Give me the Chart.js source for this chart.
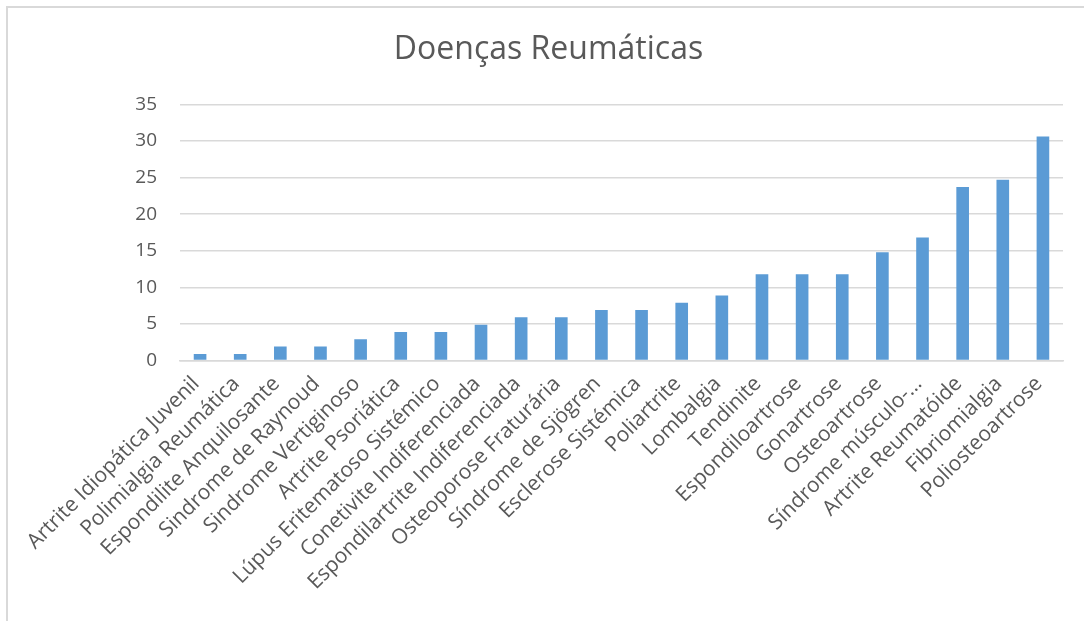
<!DOCTYPE html>
<html>
<head>
<meta charset="utf-8">
<script src="https://cdn.jsdelivr.net/npm/chart.js@4"></script>
<style>
  html, body { margin: 0; padding: 0; background: #fff; overflow: hidden; }
  #frame {
    position: absolute; left: 6px; top: 6px; width: 1200px; height: 800px;
    border-top: 2px solid #d9d9d9; border-left: 2px solid #d9d9d9;
  }
  #wrap { position: absolute; left: 0; top: 0; width: 1084px; height: 621px; }
</style>
</head>
<body>
<div id="frame"></div>
<div id="wrap"><canvas id="myChart"></canvas></div>
<script>
  // categorias e valores
  const doencas = [
    'Artrite Idiopática Juvenil',
    'Polimialgia Reumática',
    'Espondilite Anquilosante',
    'Sindrome de Raynoud',
    'Sindrome Vertiginoso',
    'Artrite Psoriática',
    'Lúpus Eritematoso Sistémico',
    'Conetivite Indiferenciada',
    'Espondilartrite Indiferenciada',
    'Osteoporose Fraturária',
    'Síndrome de Sjögren',
    'Esclerose Sistémica',
    'Poliartrite',
    'Lombalgia',
    'Tendinite',
    'Espondiloartrose',
    'Gonartrose',
    'Osteoartrose',
    'Síndrome músculo-…',
    'Artrite Reumatóide',
    'Fibriomialgia',
    'Poliosteoartrose'
  ];
  const casos = [0.9, 0.9, 1.9, 1.9, 2.9, 3.9, 3.9, 4.9, 5.9, 5.9, 6.9, 6.9, 7.9, 8.9, 11.8, 11.8, 11.8, 14.8, 16.8, 23.7, 24.7, 30.6];
  const yMax = 35;
  const yStep = 5;

  const cinza = '#595959';
  const ctx = document.getElementById('myChart');

  new Chart(ctx, {
    type: 'bar',
    data: {
      labels: doencas,
      datasets: [{
        label: 'Doenças Reumáticas',
        data: casos,
        backgroundColor: '#5b9bd5',
        borderWidth: 0,
        barPercentage: 0.63,
        categoryPercentage: 0.5
      }]
    },
    options: {
      responsive: true,
      maintainAspectRatio: false,
      animation: false,
      layout: { padding: { left: 34, right: 21, top: 0, bottom: 0 } },
      plugins: {
        legend: { display: false },
        tooltip: { enabled: false },
        title: {
          display: true,
          text: 'Doenças Reumáticas',
          color: cinza,
          font: { family: 'Open Sans', size: 32, weight: 'normal', lineHeight: 1.2 },
          padding: { top: 31, bottom: 35 }
        }
      },
      scales: {
        x: {
          grid: { display: false, drawTicks: false },
          border: { color: '#d9d9d9', width: 1.5 },
          ticks: {
            color: cinza,
            font: { family: 'Open Sans', size: 21 },
            minRotation: 45,
            maxRotation: 45,
            autoSkip: false,
            padding: 11,
            labelOffset: -4
          },
          afterFit: function (scale) { scale.height = 260.5; }
        },
        y: {
          min: 0,
          max: yMax,
          grid: { color: '#d9d9d9', lineWidth: 1.5, drawTicks: false },
          border: { display: false },
          ticks: {
            stepSize: yStep,
            color: cinza,
            font: { family: 'Open Sans', size: 19 },
            padding: 23
          },
          afterFit: function (scale) { scale.width = 146; }
        }
      }
    }
  });
</script>
</body>
</html>
